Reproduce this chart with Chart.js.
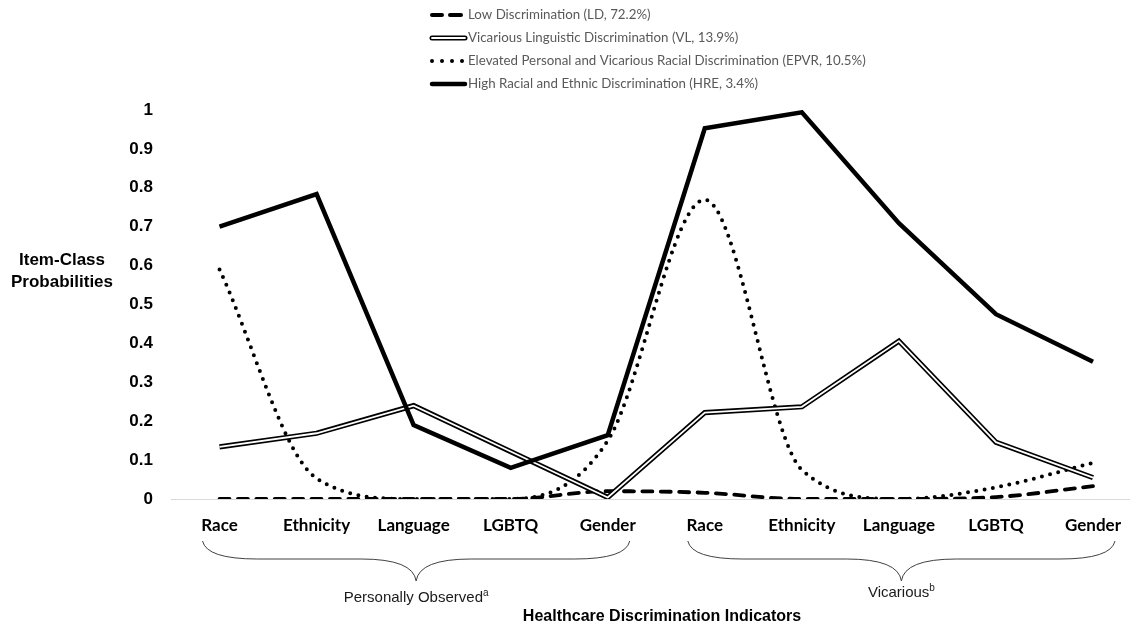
<!DOCTYPE html>
<html>
<head>
<meta charset="utf-8">
<script src="https://cdn.jsdelivr.net/npm/chart.js@4/dist/chart.umd.min.js"></script>
<style>
  html, body { margin: 0; padding: 0; background: #fff; overflow: hidden; }
  #wrap { position: relative; width: 1137px; height: 627px; }
</style>
</head>
<body>
<div id="wrap"><canvas id="c"></canvas></div>
<script>
// Indicators along the x axis: five personally observed, then five vicarious
const categories = ['Race', 'Ethnicity', 'Language', 'LGBTQ', 'Gender',
                    'Race', 'Ethnicity', 'Language', 'LGBTQ', 'Gender'];

// Item-class probabilities per latent class
const lowDisc   = [0.00, 0.00, 0.00, 0.00, 0.02, 0.016, 0.00, 0.00, 0.005, 0.033];
const vicLing   = [0.134, 0.169, 0.240, 0.122, 0.004, 0.222, 0.237, 0.406, 0.146, 0.055];
const elevPVR   = [0.590, 0.053, 0.000, 0.000, 0.150, 0.769, 0.075, 0.000, 0.030, 0.093];
const highRacEth = [0.700, 0.784, 0.190, 0.080, 0.164, 0.953, 0.994, 0.709, 0.475, 0.353];

const seriesNames = [
  'Low Discrimination (LD, 72.2%)',
  'Vicarious Linguistic Discrimination (VL, 13.9%)',
  'Elevated Personal and Vicarious Racial Discrimination (EPVR, 10.5%)',
  'High Racial and Ethnic Discrimination (HRE, 3.4%)'
];

const yTicks = [0, 0.1, 0.2, 0.3, 0.4, 0.5, 0.6, 0.7, 0.8, 0.9, 1];

const groupLabels = [
  { text: 'Personally Observed', sup: 'a', from: 0, to: 4 },
  { text: 'Vicarious', sup: 'b', from: 5, to: 9 }
];

const toXY = arr => arr.map((v, i) => ({ x: i, y: v }));

// Legend drawn on canvas as a vertical list above the plot
const legendPlugin = {
  id: 'stackedLegend',
  afterDraw(chart) {
    const ctx = chart.ctx;
    const x0 = 430, x1 = 467, tx = 468;
    const rows = [15, 38, 61, 84];
    ctx.save();
    ctx.font = '13.3px Lato, "Open Sans", sans-serif';
    ctx.textBaseline = 'middle';
    ctx.fillStyle = '#595959';
    rows.forEach((y, k) => {
      ctx.strokeStyle = '#000';
      ctx.setLineDash([]);
      if (k === 0) {
        ctx.lineWidth = 4; ctx.lineCap = 'round';
        ctx.beginPath(); ctx.moveTo(x0 + 2, y); ctx.lineTo(x0 + 12, y); ctx.stroke();
        ctx.beginPath(); ctx.moveTo(x0 + 20, y); ctx.lineTo(x0 + 31, y); ctx.stroke();
      } else if (k === 1) {
        ctx.lineCap = 'round';
        ctx.lineWidth = 5;
        ctx.beginPath(); ctx.moveTo(x0 + 2, y); ctx.lineTo(x1 - 2, y); ctx.stroke();
        ctx.strokeStyle = '#fff'; ctx.lineWidth = 1.8;
        ctx.beginPath(); ctx.moveTo(x0 + 2, y); ctx.lineTo(x1 - 2, y); ctx.stroke();
      } else if (k === 2) {
        ctx.fillStyle = '#000';
        [432, 442, 452, 462].forEach(cx => {
          ctx.beginPath(); ctx.arc(cx, y, 2, 0, Math.PI * 2); ctx.fill();
        });
        ctx.fillStyle = '#595959';
      } else {
        ctx.lineCap = 'round'; ctx.lineWidth = 4.5;
        ctx.beginPath(); ctx.moveTo(x0 + 2, y); ctx.lineTo(x1 - 2, y); ctx.stroke();
      }
      ctx.fillText(seriesNames[k], tx, y);
    });
    ctx.restore();
  }
};

// Axis titles and the grouping braces under the category labels
const annotationPlugin = {
  id: 'annotations',
  afterDraw(chart) {
    const ctx = chart.ctx;
    const xs = chart.scales.x;
    ctx.save();
    ctx.fillStyle = '#000';
    ctx.textAlign = 'center';
    ctx.textBaseline = 'middle';
    ctx.font = 'bold 17px "Liberation Sans", Arial, sans-serif';
    ctx.fillText('Item-Class', 62, 260);
    ctx.fillText('Probabilities', 62, 282);
    ctx.font = 'bold 16px "Liberation Sans", Arial, sans-serif';
    ctx.fillText('Healthcare Discrimination Indicators', 662, 617);

    ctx.strokeStyle = '#404040';
    ctx.lineWidth = 1;
    groupLabels.forEach(g => {
      const L = xs.getPixelForValue(g.from) - 17;
      const R = xs.getPixelForValue(g.to) + 22;
      const M = (L + R) / 2;
      const top = 541, mid = 559, tip = 581;
      ctx.beginPath();
      ctx.moveTo(L, top);
      ctx.quadraticCurveTo(L + 4, mid, L + 55, mid);
      ctx.lineTo(M - 55, mid);
      ctx.quadraticCurveTo(M - 3, mid, M, tip);
      ctx.quadraticCurveTo(M + 3, mid, M + 55, mid);
      ctx.lineTo(R - 55, mid);
      ctx.quadraticCurveTo(R - 4, mid, R, top);
      ctx.stroke();

      ctx.font = '15px "Liberation Sans", Arial, sans-serif';
      ctx.fillStyle = '#1a1a1a';
      const w = ctx.measureText(g.text).width;
      ctx.font = '10px "Liberation Sans", Arial, sans-serif';
      const ws = ctx.measureText(g.sup).width;
      const start = M - (w + ws) / 2;
      ctx.textAlign = 'left';
      ctx.font = '15px "Liberation Sans", Arial, sans-serif';
      const ty = g.from === 0 ? 598 : 593;
      ctx.fillText(g.text, start, ty);
      ctx.font = '10px "Liberation Sans", Arial, sans-serif';
      ctx.fillText(g.sup, start + w, ty - 5);
      ctx.textAlign = 'center';
    });
    ctx.restore();
  }
};

new Chart(document.getElementById('c'), {
  type: 'line',
  data: {
    datasets: [
      {
        label: seriesNames[3], data: toXY(highRacEth),
        borderColor: '#000', borderWidth: 4.5, pointRadius: 0,
        tension: 0, order: 0, borderJoinStyle: 'miter'
      },
      {
        label: seriesNames[1] + ' inner', data: toXY(vicLing),
        borderColor: '#fff', borderWidth: 1.8, pointRadius: 0,
        tension: 0, order: 1
      },
      {
        label: seriesNames[1], data: toXY(vicLing),
        borderColor: '#000', borderWidth: 5.2, pointRadius: 0,
        tension: 0, order: 2
      },
      {
        label: seriesNames[2], data: toXY(elevPVR),
        borderColor: '#000', borderWidth: 4, pointRadius: 0,
        borderDash: [0, 8.4], borderCapStyle: 'round',
        cubicInterpolationMode: 'monotone', order: 3
      },
      {
        label: seriesNames[0], data: toXY(lowDisc),
        borderColor: '#000', borderWidth: 3.8, pointRadius: 0,
        borderDash: [10, 8.4], borderCapStyle: 'round',
        cubicInterpolationMode: 'monotone', order: 4
      }
    ]
  },
  options: {
    responsive: true,
    maintainAspectRatio: false,
    animation: false,
    layout: { padding: { top: 110, right: 0, left: 0, bottom: 0 } },
    plugins: { legend: { display: false }, tooltip: { enabled: false } },
    scales: {
      x: {
        type: 'linear',
        min: -0.5,
        max: 9.38,
        grid: { display: false, drawTicks: false },
        border: { display: true, color: '#d9d9d9', width: 1 },
        afterBuildTicks: s => { s.ticks = categories.map((_, i) => ({ value: i })); },
        afterFit: s => { s.height = 128; },
        ticks: {
          padding: 16,
          autoSkip: false,
          maxRotation: 0,
          color: '#000',
          font: { family: 'Lato, "Open Sans", sans-serif', size: 17, weight: 'bold' },
          callback: v => categories[v] ?? ''
        }
      },
      y: {
        min: 0,
        max: 1,
        grid: { display: false, drawTicks: false },
        border: { display: false },
        afterBuildTicks: s => { s.ticks = yTicks.map(v => ({ value: v })); },
        afterFit: s => { s.width = 171; },
        ticks: {
          padding: 18,
          color: '#000',
          font: { family: '"Liberation Sans", Arial, sans-serif', size: 17, weight: 'bold' },
          callback: v => String(Math.round(v * 10) / 10)
        }
      }
    }
  },
  plugins: [legendPlugin, annotationPlugin]
});
</script>
</body>
</html>
